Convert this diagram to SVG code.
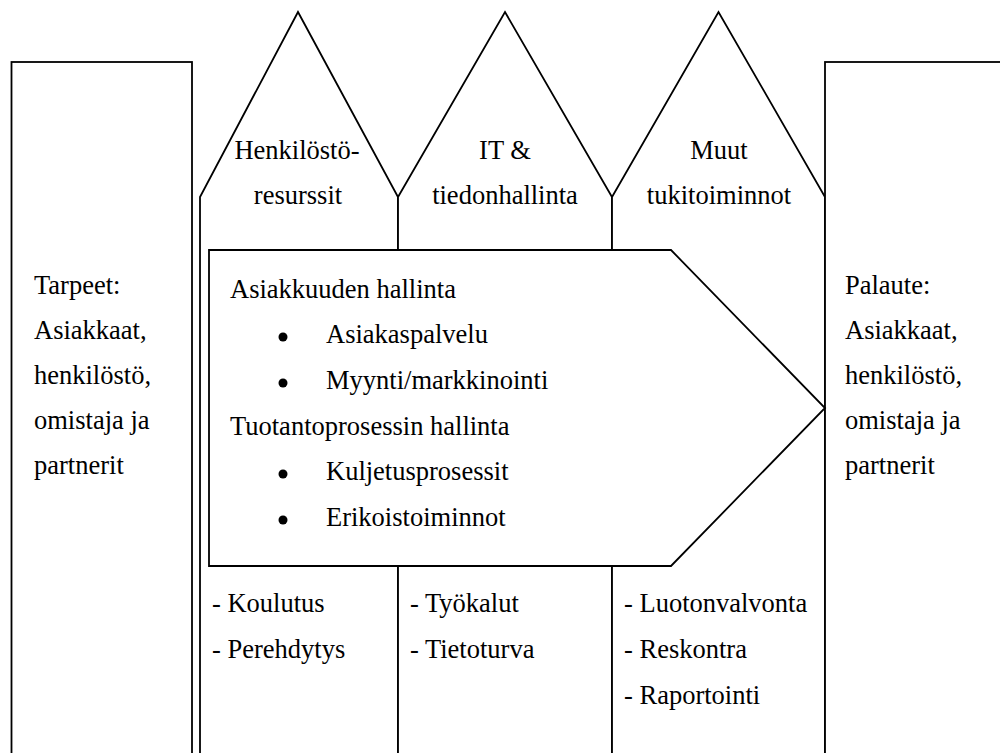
<svg xmlns="http://www.w3.org/2000/svg" width="1000" height="753" viewBox="0 0 1000 753">
  <style>
    .box { fill: #ffffff; stroke: #000000; stroke-width: 1.8; stroke-linejoin: miter; }
    .t { font-family: "Liberation Serif", "Times New Roman", serif; font-size: 26.5px; fill: #000000; }
    .c { text-anchor: middle; }
    .dot { fill: #000000; }
  </style>
  <rect x="0" y="0" width="1000" height="753" fill="#ffffff"/>

  <!-- left column: needs -->
  <g id="needs">
    <rect class="box" x="11.5" y="62" width="180.5" height="710"/>
    <text class="t" x="34" y="294">Tarpeet:</text>
    <text class="t" x="34" y="339">Asiakkaat,</text>
    <text class="t" x="34" y="384">henkilöstö,</text>
    <text class="t" x="34" y="429">omistaja ja</text>
    <text class="t" x="34" y="474">partnerit</text>
  </g>

  <!-- support function pillars -->
  <g id="hr">
    <polygon class="box" points="200,772 200,197 298,12 398,197 398,772"/>
    <text class="t c" x="297" y="159">Henkilöstö-</text>
    <text class="t c" x="298" y="204">resurssit</text>
    <text class="t" x="212" y="612">- Koulutus</text>
    <text class="t" x="212" y="658">- Perehdytys</text>
  </g>

  <g id="it">
    <polygon class="box" points="398,772 398,197 505,12 612,197 612,772"/>
    <text class="t c" x="505" y="159">IT &amp;</text>
    <text class="t c" x="505" y="204">tiedonhallinta</text>
    <text class="t" x="410" y="612">- Työkalut</text>
    <text class="t" x="410" y="658">- Tietoturva</text>
  </g>

  <g id="other">
    <polygon class="box" points="612,772 612,197 718.5,12 825,197 825,772"/>
    <text class="t c" x="719" y="159">Muut</text>
    <text class="t c" x="719" y="204">tukitoiminnot</text>
    <text class="t" x="624" y="612">- Luotonvalvonta</text>
    <text class="t" x="624" y="658">- Reskontra</text>
    <text class="t" x="624" y="704">- Raportointi</text>
  </g>

  <!-- right column: feedback -->
  <g id="feedback">
    <rect class="box" x="825" y="62" width="200" height="710"/>
    <text class="t" x="845" y="294">Palaute:</text>
    <text class="t" x="845" y="339">Asiakkaat,</text>
    <text class="t" x="845" y="384">henkilöstö,</text>
    <text class="t" x="845" y="429">omistaja ja</text>
    <text class="t" x="845" y="474">partnerit</text>
  </g>

  <!-- core process arrow -->
  <g id="core">
    <polygon class="box" points="209,250 671,250 825,408 671,566 209,566"/>
    <text class="t" x="230" y="298">Asiakkuuden hallinta</text>
    <circle class="dot" cx="283" cy="337" r="4.5"/>
    <text class="t" x="326" y="343">Asiakaspalvelu</text>
    <circle class="dot" cx="283" cy="383" r="4.5"/>
    <text class="t" x="326" y="389">Myynti/markkinointi</text>
    <text class="t" x="230" y="435">Tuotantoprosessin hallinta</text>
    <circle class="dot" cx="283" cy="474" r="4.5"/>
    <text class="t" x="326" y="480">Kuljetusprosessit</text>
    <circle class="dot" cx="283" cy="520" r="4.5"/>
    <text class="t" x="326" y="526">Erikoistoiminnot</text>
  </g>

  <g id="connectors"></g>
</svg>
